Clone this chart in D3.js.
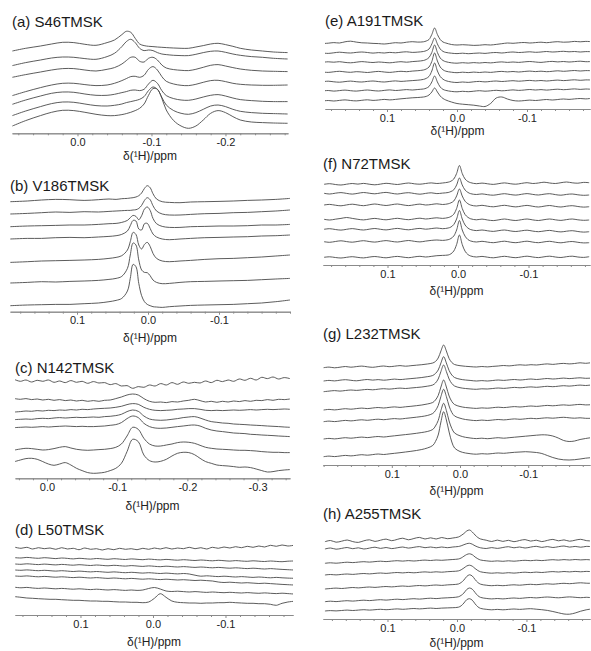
<!DOCTYPE html>
<html><head><meta charset="utf-8">
<script src="https://cdn.jsdelivr.net/npm/d3@7"></script>
<style>body{margin:0;background:#fff}svg{display:block}</style>
</head><body>
<svg id="chart" width="591" height="651"></svg>
<script>
// ---------- DATA (chemical shift grids in ppm, intensities in arbitrary units, 7 stacked spectra per panel) ----------
const ppmA = [0.088,0.07,0.05,0.035,0.02,0.005,-0.01,-0.025,-0.04,-0.05,-0.06,-0.066,-0.072,-0.078,-0.084,-0.09,-0.096,-0.102,-0.108,-0.114,-0.12,-0.13,-0.14,-0.15,-0.16,-0.17,-0.18,-0.19,-0.2,-0.21,-0.22,-0.235,-0.25,-0.265,-0.284];
const intA = [
[82.3,85,87.3,89.3,91,90.7,89,88,90.7,93.3,98.7,102,101,95,89.3,87.7,87,86.7,86.3,86,85.7,85.3,85,85,86.3,87.7,89.3,90,88.7,87,85,83.3,82.3,81.3,80.7],
[67.7,70.7,73.3,75.3,76.3,76,74.7,74,76.7,80,86.7,91.7,94,90.7,85,82.7,83.3,82.7,80.7,79.3,78.7,78,77.7,77.7,79,80.7,82,82.3,81,79.3,78,76.7,76,75,74.3],
[56,58.7,61.3,63.3,64.7,64.7,63.3,62.3,64,65.7,69.3,72.7,76,76,72,71.3,75,76,73.3,68.3,65.3,63.7,63,62.7,64,66,68,68.7,67.3,65.7,64.3,63,62.3,62,61.7],
[37.7,41.7,45.7,48.3,50,50,48.7,47.7,48.3,50,52.7,54.7,56.7,57,56,58,64,66.7,63.3,56.7,52,49.3,48,47.7,49,51,52.7,53,51.7,50,49,48.3,48,48,48.3],
[29,33.3,37.3,40,41.3,41,39.3,38,38,39,40.7,41.7,43,43.3,42.7,44,49.3,53,50,42.7,37.7,34.7,33.3,33,34.3,36.3,38,38.7,37.3,35.3,33.7,32.7,32,31.7,31.7],
[17.7,22.3,26.7,29.7,31.3,31,29.3,27.7,27.3,28,29.3,30.7,31.7,32.7,34,36.7,42.7,46.3,44,36,28.3,22.7,20,19,20.7,24,27.3,28.3,26.7,24,22,20.7,20,19.7,19.3],
[7.3,12.7,17.7,21,23,22.7,21,19,17.7,17.7,18.7,19.7,21,22.7,25,29.3,38,44.7,44,35,23.3,12.7,7.3,5,7.3,13.3,20,22.7,20.7,16.7,13.3,11.3,10.7,10.3,10]
];

const ppmB = [0.194,0.17,0.15,0.13,0.11,0.09,0.07,0.055,0.045,0.037,0.029,0.025,0.021,0.017,0.013,0.009,0.005,0.001,-0.003,-0.007,-0.012,-0.02,-0.03,-0.045,-0.06,-0.08,-0.1,-0.12,-0.14,-0.16,-0.18,-0.2];
const intB = [
[110,110.7,111.7,112.3,112,111.3,112,112.7,112.3,113,113.3,113.7,114,114.7,116,118.7,123.3,126,124,118,112.7,110,109.3,109,109.7,110,110.3,110.7,111.3,111.7,112.3,113.3],
[97.7,98.3,99,99.7,99.3,100,99.7,100.3,100.7,101,101.3,101.3,101.7,102,103.3,106.3,111.3,114,112,106,100.7,97.7,96.7,96.7,97.3,98,98.3,99,99.3,100,100.7,101.7],
[85,85.7,86,86.3,86.7,86.7,87.3,88,88.3,89.3,91.3,94,96.3,95.3,92,96,102.7,104.7,101.3,93.3,88,85.3,84.3,84.3,85,85.3,85.7,85.7,86,86.7,86.7,87.3],
[72.7,73.3,73.3,74,74.3,74,74.7,75.3,76,77.3,80.7,86,91.3,90.7,82.7,81.7,88,88.3,83.3,77.7,74.7,72.7,72,72.7,73.3,74,74.3,74.7,75,75.7,76,76.7],
[49.3,50,50.7,51,51.3,51.7,52.3,53.3,54.3,56,61.7,70,79.3,77.3,66.7,62.7,67.3,69.3,65.3,58.3,53.3,50.7,50,50.7,51.3,52.3,53,53.3,54,54.7,55.7,56.7],
[28.7,29.3,30,29.7,30.3,30.7,31.3,32.3,33.3,35.3,43.3,56.7,68.7,66.7,51.7,41.7,39.3,39,36,31.7,29.3,28,28.3,29.3,30,30.3,30.7,31,31.3,32,32.7,33.3],
[6,6.7,7,7.3,7.3,8,8.7,10,11.3,13.3,20.7,33.3,47.3,45,28.3,16,10,7.3,6,5,4.7,4.3,5,5.7,6.3,6.7,7,7.3,8,8.7,10,11.7]
];

const ppmC = [0.046,0.038,0.03,0.022,0.014,0.006,-0.002,-0.01,-0.018,-0.026,-0.034,-0.042,-0.05,-0.058,-0.066,-0.074,-0.082,-0.09,-0.098,-0.106,-0.114,-0.122,-0.13,-0.138,-0.146,-0.154,-0.162,-0.17,-0.178,-0.186,-0.194,-0.202,-0.21,-0.218,-0.226,-0.234,-0.242,-0.25,-0.258,-0.266,-0.274,-0.282,-0.29,-0.298,-0.306,-0.314,-0.322,-0.33,-0.338,-0.346];
const intC = [
[98.7,97,98.3,96.3,98,97,98.3,96,97.3,95.7,97.7,96,97,95,96.7,95.3,95.7,93.7,94.7,92.3,92.7,90,91.7,91,93.3,92.3,94.7,93.3,95.7,94,96.3,95,96,95.3,97.3,95.7,98,96.7,98.3,97,99.3,98,100,98.3,101,99.7,101.3,99.3,100.7,99.7],
[79.7,79,79.7,78.7,79.3,78.3,79,78,78.7,77.7,78.3,77.3,78,77,77.7,77,78,78.3,79.7,81.3,83.3,84.3,83.3,79.7,77,76,76.3,75.7,76.7,76.3,77.3,78,79,77.7,76.3,77,76,77,76.3,77.3,76.7,77.7,77,78,77.7,78.7,78,79,78.7,79.3],
[66.3,66.7,67.3,67,67.7,67.3,68,67.7,68.3,68,68.7,68.3,69,68.7,69.3,69.7,70,70.3,71,72,73.7,74.7,74,71,69,68,67.7,68,68.3,69,69.3,69.7,69.7,69,68,67.7,68,67.7,68,68.3,68,68.3,68.7,68.3,68.7,69,68.7,69,69.3,69],
[58.7,59,59.3,59,59.7,60,59.7,60.3,60.7,60.3,60.7,61,60.7,61,61.3,61,61.7,62,62.7,64,66.7,68.3,67,62.3,59.3,58.3,58,58.3,59,59.7,60.7,61.3,61.7,60.3,58.3,56.7,56,55.3,55,54.3,54,53.7,53.3,53,52.7,52.3,52,51.7,51.3,51],
[50.7,51,51.3,51,51.3,51.7,51.3,51.7,52,52.3,52,51.7,52,51.7,51.7,52,52.3,53,53.7,55.7,59.7,62.3,60.7,55,51.7,50.3,50,50.3,51,51.7,52.3,53,53.3,52.3,50,48.3,47.3,46.7,46,45.3,45,44.7,44,43.7,43.3,43,42.7,42.3,42,41.7],
[28.3,29.3,30,29.7,29,28.3,28.7,29.7,31,31.7,30.3,29,28.3,28,28.3,28.7,29,29.7,31,34.3,42.3,51,49,40,34.3,32.3,32.3,33.3,34.3,35.7,36.3,36,35,33,31,30,29.3,29,28.7,28.3,28,28,27.7,27.3,26.7,26.3,26,26,25.7,25.7],
[16.7,18.3,19.7,20,19,16.7,14.3,13,14.3,15.7,13.3,10,7.7,5.7,5,5.3,6,7.7,10,15,26.7,39,36.7,23.3,17.7,16.3,17,19,22.3,25,26,25.7,23.7,20,16.7,15,13.3,12.7,12.3,11.7,11,11.3,10.7,9.3,7.7,6.3,6.7,7.7,8.3,8.7]
];

const ppmD = [0.19,0.182,0.174,0.166,0.158,0.15,0.142,0.134,0.126,0.118,0.11,0.102,0.094,0.086,0.078,0.07,0.062,0.054,0.046,0.038,0.03,0.022,0.014,0.006,-0.002,-0.01,-0.018,-0.026,-0.034,-0.042,-0.05,-0.058,-0.066,-0.074,-0.082,-0.09,-0.098,-0.106,-0.114,-0.122,-0.13,-0.138,-0.146,-0.154,-0.162,-0.17,-0.178,-0.186,-0.194];
const intD = [
[67.7,66.7,67.7,66,67.3,66.3,67,65.7,67.3,66,66.7,65.3,67,65.7,66.3,65,66.3,65.3,66.7,65.7,66.3,65.3,66.7,65.7,67,66,67.3,66,67,66.3,67.7,66.3,67.3,66,67.7,66.7,68,67,68.3,67.3,68.7,67.7,69,68,69.7,68.7,70,69,69.7],
[57.3,57,57.6,57.1,56.7,57.3,56.9,56.4,57,56.6,56.1,56.7,56.3,55.9,56.5,56.1,55.7,56.3,55.9,55.5,56.1,55.7,55.3,55.9,55.5,55.1,55.6,55.2,54.8,55.3,54.9,54.5,55,54.6,54.2,54.7,54.3,53.9,54.4,54,53.7,54.2,53.8,53.5,54,53.6,53.3,53.8,54],
[51,50.7,51.2,50.8,50.4,50.9,50.5,50.1,50.6,50.2,49.8,50.3,49.9,49.5,50,49.6,49.2,49.7,49.3,48.9,49.4,49,48.6,49.1,48.7,48.3,48.8,48.4,48,48.4,48,47.6,48,47.6,47.2,47.6,47.2,46.8,47.2,46.8,46.4,46.8,46.4,46,46.4,46,45.6,45.3,45],
[45,44.7,45.1,44.7,44.3,44.7,44.3,43.9,44.3,43.9,43.5,43.9,43.5,43.1,43.5,43.1,42.7,43.1,42.7,42.3,42.7,42.3,41.9,42.3,41.9,41.5,41.9,41.5,41.1,41.5,41,39.8,38.8,39.2,38.8,38.4,38.8,38.4,38,38.4,38,37.6,38,37.6,37.2,37.6,37.2,36.9,36.7],
[39,38.7,39.1,38.6,38.2,38.6,38.2,37.8,38.2,37.8,37.4,37.8,37.4,37,37.4,37,36.6,37,36.6,36.2,36.6,36.2,35.8,36.2,35.8,35.4,35.8,35.4,35,35.3,34.9,34.5,34.8,34.4,34,33,32.5,32.8,32.4,32,32.3,31.9,31.5,31.8,31.4,31,30.6,30.3,30],
[27.7,27.2,27.6,27,26.6,27,26.6,26.2,26.6,26.2,25.8,26.2,25.8,25.4,25.8,25.4,25,25.4,25,24.6,25,24.6,25,26.5,27.5,26,24,23.5,23.8,23.4,23,23.4,23,22.6,23,22.6,22.3,22.7,22.3,22,22.4,22,21.7,22.1,21.7,21.4,21.8,21.4,21],
[18.3,17.7,17,16.7,16.3,16,15.7,15.7,15.3,15,14.7,14.7,14.3,14,14,13.7,13.7,13.3,13,13,12.7,12.7,12.3,13,16.7,21.3,17.7,14,12.7,12.3,12,12,11.7,12,12,12.3,12.3,12.7,12.3,12,11.7,11.7,11.3,11.3,10.7,9.7,11.7,13,13.7]
];

const ppmE = [0.192,0.184,0.176,0.168,0.16,0.152,0.144,0.136,0.128,0.12,0.112,0.104,0.096,0.088,0.08,0.072,0.064,0.056,0.048,0.044,0.04,0.036,0.032,0.028,0.024,0.02,0.016,0.008,0,-0.008,-0.016,-0.024,-0.032,-0.04,-0.048,-0.056,-0.064,-0.072,-0.08,-0.088,-0.096,-0.104,-0.112,-0.12,-0.128,-0.136,-0.144,-0.152,-0.16,-0.168,-0.176,-0.184,-0.192];
const intE = [
[65.5,65.8,66.4,66,67.2,67.8,66.9,66.2,66,65.6,65.4,65,65.6,66.3,66,66.8,67.3,66.9,67.2,68,69.5,74.5,81,74.5,69.5,67,66,64.5,64,64.3,64,63.6,63.8,64.3,64,64.6,65.3,66,65.7,66.2,66.5,66,66.4,66.8,66.3,66.9,67.3,66.8,67,67.6,67.2,67.6,67.3],
[56,55.6,56.2,56.8,56.3,56,56.6,57,56.5,55.9,56.4,56,56.6,56.2,56.8,57.2,56.6,56.9,57.5,58.3,60,65,71,65,60,57.6,56.6,55.8,55.4,55.8,55.3,55.7,56,55.6,56.2,56.5,56,56.6,57,56.5,56.8,57.2,56.7,57,57.5,57,57.3,57.7,57.2,57.5,57,57.4,57.3],
[46.7,47.2,46.8,47.3,46.6,46.2,46.8,47.4,46.9,46.5,47,46.6,46.2,46.8,47.3,46.8,47.4,47.8,48.5,49.5,51.5,56.5,64,56.5,51,48.5,47.3,46.2,45.8,46.3,45.9,46.4,46,46.5,46.1,46.7,47.1,46.6,47,46.6,47.1,47.5,47,46.6,47.2,47.6,47.1,47.5,47,47.4,47.8,47.3,47.5],
[37,36.6,37.2,37.7,37.1,36.7,37.3,37,36.5,37.1,37.6,37,36.6,37.2,37.7,37.3,37.9,38.3,39,40,42,47.5,56,48,42,39.2,37.8,36.8,36.3,36.8,36.4,36.9,36.5,37,36.6,37.2,37.6,37.1,37.5,37,37.5,37.9,37.4,37.8,37.3,37.7,38.2,37.7,38.1,38.5,38,38.4,38.3],
[27.3,27.8,27.2,26.8,27.4,27.9,27.3,27,27.6,28,27.4,27,27.6,28.1,27.6,28,28.4,28.8,29.6,30.6,32.6,38,46,38,32.5,29.8,28.3,27,26.5,27,26.6,27.2,27.6,27.1,27.6,28,27.5,27.9,28.3,27.8,28.2,28.6,28.1,28.5,28,28.5,28.9,28.4,28.8,29.2,28.7,29.1,29],
[18,18.5,17.9,18.4,18.9,18.3,17.9,18.5,19,18.4,18,18.6,19.1,18.5,18.9,19.4,19,19.5,20,20.8,22.5,27,33,27,22,19.6,18.6,17.6,17.2,17.7,17.3,17.8,18.3,17.8,18.2,18.7,18.2,18.6,19.1,18.6,19,19.5,19,19.4,18.9,19.4,19.8,19.3,19.7,20.1,19.6,20,19.7],
[8,8.5,8,8.6,9.1,8.5,8.1,8.7,9.2,8.6,9,9.6,9.1,9.6,10.2,10.7,11.2,11.5,12,12.6,14,17,21,17,13,10.5,9,7,5.5,4.8,4.3,3.8,3,2.5,5.5,11,12,10,8.5,8,8.4,8.9,8.5,9,9.5,9,9.5,10,9.6,10.1,10.5,10.1,10.7]
];

const ppmF = [0.19,0.182,0.174,0.166,0.158,0.15,0.142,0.134,0.126,0.118,0.11,0.102,0.094,0.086,0.078,0.07,0.062,0.054,0.046,0.038,0.03,0.022,0.014,0.01,0.006,0.002,-0.002,-0.006,-0.01,-0.014,-0.018,-0.026,-0.034,-0.042,-0.05,-0.058,-0.066,-0.074,-0.082,-0.09,-0.098,-0.106,-0.114,-0.122,-0.13,-0.138,-0.146,-0.154,-0.162,-0.17,-0.178,-0.186];
const intF = [
[80.7,81.3,80.5,80,80.8,81.5,80.9,81.6,80.8,80.2,80.9,81.7,81.1,80.5,81.3,82,81.2,80.8,81.5,82.1,81.5,82,82.8,83.8,86,91.5,99.5,91.5,86,83.5,82.3,81.3,81.9,81.2,80.6,81.4,82.1,81.3,80.8,81.6,82.3,81.5,82,82.8,82,81.5,82.3,83,82.2,81.8,82.6,82.3],
[71.7,71,71.8,72.4,71.6,70.9,71.7,72.5,71.8,71.2,72,72.6,71.7,71,71.8,72.3,71.5,70.8,71.6,72.2,71.4,71.9,72.5,73.5,75.2,80,87,80,75,72.6,71.3,70.5,71.1,70.3,69.8,70.6,71.3,70.5,69.9,70.7,71.4,70.6,70,70.8,71.3,70.4,69.8,70.6,71,70.2,69.7,70],
[60,60.6,59.8,59.2,60.1,60.8,60,59.3,60.2,61,60.2,59.5,60.3,61,60.1,59.4,60.2,60.9,60,60.5,61.2,60.5,61.2,62.2,64,69,76,69,63.8,61.3,59.9,59,59.7,58.8,58.2,59,59.7,58.8,58.1,58.9,59.6,58.7,58,58.8,59.5,58.6,58,58.8,59.3,58.5,57.9,58.3],
[45.7,45,45.8,46.6,47.5,46.6,45.7,45.1,45.9,46.6,45.8,45.2,46,46.7,45.9,45.3,46.1,46.8,46,46.6,47.2,46.6,47.4,48.5,50.8,56.5,65,56.5,50.5,47.7,46.2,45.2,45.9,45,44.4,45.2,46,45.1,44.5,45.3,46,45.1,44.5,45.3,46,45.2,44.6,45.4,46,45.2,44.7,45],
[35.7,36.3,35.5,34.9,35.7,36.4,35.6,35,35.8,36.5,35.7,35.1,35.9,36.6,35.8,35.2,36,36.6,35.8,36.4,37,36.3,37,38,40.5,46,54.5,46,40,37,35.4,34.4,35,34.2,33.6,34.4,35,34.1,33.5,34.2,34.8,33.9,33.3,34,34.6,33.7,33.1,33.8,34.3,33.5,32.9,33.3],
[23.3,22.7,23.5,24.2,23.4,22.8,23.6,24.3,23.5,22.9,23.7,24.4,23.6,23,23.8,24.5,23.7,23.1,23.9,24.6,25,24.6,25.3,26.5,29,35,44.5,35,28.8,25.5,24,23,23.7,22.9,22.3,23.1,23.8,22.9,22.3,23.1,23.8,22.9,22.3,23.1,23.7,22.8,22.2,23,23.5,22.7,22.1,22.3],
[7.7,8.2,7.5,7,7.7,8.3,7.6,7.1,7.9,8.5,7.8,7.2,8,8.6,7.9,7.3,8.1,8.7,8,8.6,9.3,9.6,10,11.2,14,20.5,30,20.5,13.8,10.5,9,8,8.6,7.8,7.2,8,8.7,7.9,7.3,8.1,8.8,8,7.4,8.2,8.8,8,7.5,8.3,8.8,8,7.6,8.3]
];

const ppmG = [0.2,0.192,0.184,0.176,0.168,0.16,0.152,0.144,0.136,0.128,0.12,0.112,0.104,0.096,0.088,0.08,0.072,0.064,0.056,0.048,0.04,0.036,0.032,0.028,0.024,0.02,0.016,0.012,0.008,0,-0.008,-0.016,-0.024,-0.032,-0.04,-0.048,-0.056,-0.064,-0.072,-0.08,-0.088,-0.096,-0.104,-0.112,-0.12,-0.128,-0.136,-0.144,-0.152,-0.16,-0.168,-0.176,-0.184,-0.192];
const intG = [
[97.3,97.9,97.2,97.8,98.5,97.8,98.4,98.9,98.2,97.7,98.4,99,98.3,98.8,99.4,98.8,99.3,99.8,100.3,101,102,103.5,107,114,120,114,106.5,102.5,100.5,99.3,98.7,98.3,98,98.5,98.1,98.6,99,99.5,99.1,99.7,100.2,99.8,100.3,100,100.6,101.1,100.6,101.2,101.6,101.1,101.5,102.2,101.7,102.3],
[84,84.6,84.1,84.8,85.3,84.7,84.2,84.9,85.5,84.9,85.4,84.8,85.3,85.9,85.4,85.9,86.4,86.9,87.5,88.3,89.5,91.5,95,102,108.3,102,94.5,90,87.5,85.8,85,84.5,84,84.4,84,84.5,85,84.6,85.1,85.5,85,85.5,86,85.5,86,86.5,86,86.4,86.9,86.4,86.8,87.2,86.7,86.9],
[73.3,73.9,74.4,73.9,74.5,75,74.6,75.1,75.6,75.2,75.8,76.3,75.9,76.4,76.9,76.5,77,77.5,78,78.8,80,82,86,93.5,100,93.5,86,81.5,79,77.3,76.5,76,75.7,76.2,76,76.5,77,76.6,77.1,77.6,77.2,77.7,78.1,77.7,78.2,78.7,78.3,78.8,79.3,78.9,79.4,79.9,79.5,80],
[55,55.6,55.1,55.7,56.3,55.8,56.4,56.9,56.4,57,57.5,57,57.6,58.1,57.6,58.2,58.7,59.3,60,61,62.5,65,69.5,78,85,78,69,63.5,60.5,58.5,57.5,57,56.6,57.1,56.8,57.3,57.8,57.4,57.9,58.4,58,58.5,59,58.6,59.1,59.6,59.2,59.7,60.1,59.7,60.2,60.6,60.1,60.3],
[43.3,43.9,43.4,44,44.6,44.1,44.7,45.2,44.7,45.3,45.8,45.3,45.9,46.4,46,46.6,47.2,47.8,48.5,49.5,51.5,54.5,59.5,68.5,75.7,68.5,59,52.5,49,46.8,45.5,44.8,44.4,44.9,44.5,45,45.5,45.1,45.6,46.1,45.7,46.2,46.7,46.3,46.8,47.2,46.8,47.3,47.7,47.2,46.8,47.2,46.7,46.7],
[26,26.6,26.1,26.7,27.3,26.8,27.4,27.9,27.4,28,28.5,28,28.6,29.2,29.8,30.4,31,31.7,32.5,33.5,35.5,39,44.5,54.5,61.7,54.5,44,36.5,32,29.2,27.7,26.9,26.4,26.8,26.3,26.8,27.3,26.8,27.3,27.8,28.3,28.8,29.3,29.8,30.2,30,29,27,24.5,23.5,24,25.5,26.5,27.3],
[8.3,8.9,8.4,9,9.6,9.1,9.7,10.3,9.8,10.4,11,10.5,11.1,11.7,12.3,13,13.7,14.5,15.5,17,19.5,23.5,30,43,53.3,45,33,23,17,13.5,12,11.2,10.8,11.3,11,11.5,12,11.7,12.2,12.7,13,13.3,13,12.5,11.5,9.5,7.5,6,5.2,5,5.3,6,6.8,7.3]
];

const ppmH = [0.19,0.182,0.174,0.166,0.158,0.15,0.142,0.134,0.126,0.118,0.11,0.102,0.094,0.086,0.078,0.07,0.062,0.054,0.046,0.038,0.03,0.022,0.014,0.006,-0.002,-0.006,-0.01,-0.014,-0.018,-0.022,-0.026,-0.03,-0.034,-0.042,-0.05,-0.058,-0.066,-0.074,-0.082,-0.09,-0.098,-0.106,-0.114,-0.122,-0.13,-0.138,-0.146,-0.154,-0.162,-0.17,-0.178,-0.186,-0.194];
const intH = [
[77.3,78.5,76.8,77.8,79,77.4,76.6,78.2,79.2,77.6,78.8,79.9,78.3,79.6,80.8,79.2,80.5,81.6,80,81.2,80,81.5,80.3,81,82,83.5,85.5,88,89,87,84,81.5,80,78.8,77.5,78.9,77.6,78.7,77.3,78.5,79.4,77.9,78.8,77.4,78.6,79.6,78.2,79.1,77.8,78.8,79.7,78.4,78],
[70,71,69.8,70.6,71.5,70.3,71.2,70,70.9,71.8,70.6,71.5,70.4,71.2,72,70.9,71.7,72.4,71.3,72,71.2,72,71.3,72,72.5,73.2,74.3,75.3,75.7,74.8,73.2,72,71.2,70.5,71.4,70.6,71.5,72.3,71.2,72,71,71.9,72.7,71.6,72.4,71.5,72.3,73,71.9,72.6,71.8,72.6,72.3],
[55.7,56.2,55.8,56.3,56.8,56.4,56.9,57.3,56.9,57.4,57.8,57.4,57.9,58.3,57.9,58.4,58,58.5,58.9,58.5,59,58.7,59.1,59.5,60,61,62.8,64.5,65.2,64.3,62,60.2,59,58.2,57.7,58.1,57.7,58.2,57.8,58.3,58.7,58.3,58.8,58.4,58.9,59.3,58.9,59.4,59,59.5,59.1,59.4,59],
[44,44.5,44.1,44.6,45,44.6,45.1,45.5,45.1,45.6,46,45.6,46.1,46.5,46.1,46.6,46.2,46.7,47.1,46.7,47.2,46.8,47.3,47.6,48.1,49.2,51,53,53.8,52.8,50.5,48.5,47.2,46.3,45.8,46.2,45.8,46.3,45.9,46.4,46.8,46.4,46.9,46.5,47,47.4,47,47.5,47.1,47.6,47.2,47.6,47.3],
[30,30.5,30.9,30.5,31,31.5,31.1,31.6,32,31.6,32.1,32.5,32.1,32.6,33,32.6,33.1,33.5,33.1,33.6,34,33.6,34.1,34.4,35,36.5,39,42.5,44.2,43,39.5,36.5,34.8,33.8,33.3,33.7,33.3,33.8,34.2,33.8,34.3,34.7,34.3,34.8,35.2,34.8,35.3,35.7,35.3,35.8,36.2,35.8,35.7],
[17.3,17.8,17.4,17.9,18.3,17.9,18.4,18.8,18.4,18.9,19.3,18.9,19.4,19.8,19.4,19.9,20.3,19.9,20.4,20.8,20.4,20.9,21.2,21.5,22.2,23.6,26,29.5,31,29.8,26.5,23.3,21.6,20.6,20.1,20.5,20.1,20.6,21,20.6,21.1,21.5,21.1,21.6,22,21.6,21.2,21.7,22.1,21.7,21.3,21.7,21.3],
[8,8.4,8.1,8.5,8.9,8.5,8.9,9.3,8.9,9.3,9.7,9.3,9.7,10.1,9.7,10.1,10.5,10.1,10.5,10.9,10.5,10.9,11.1,11.3,11.8,13.2,16,19.3,20.3,18.8,15.2,12.2,10.6,9.7,9.2,9.6,9.2,9.6,10,9.6,10,10.3,9.8,9.3,8.6,7.5,6.2,5,4.8,6,7.8,9.2,10]
];

const titles = ["(a) S46TMSK","(b) V186TMSK","(c) N142TMSK","(d) L50TMSK","(e) A191TMSK","(f) N72TMSK","(g) L232TMSK","(h) A255TMSK"];
const majorTicks = [[0,-0.1,-0.2],[0.1,0,-0.1],[0,-0.1,-0.2,-0.3],[0.1,0,-0.1],[0.1,0,-0.1],[0.1,0,-0.1],[0.1,0,-0.1],[0.1,0,-0.1]];
const axisTitle = "δ(¹H)/ppm";

// ---------- LAYOUT ----------
const layout = [
  {ppm:ppmA, data:intA, x0:12,  x1:288, dom:[0.0885,-0.2845], axisY:133.3, titleY:27,  labelY:159.6},
  {ppm:ppmB, data:intB, x0:10,  x1:290, dom:[0.1944,-0.2],    axisY:311.7, titleY:191, labelY:341.5},
  {ppm:ppmC, data:intC, x0:15,  x1:290, dom:[0.0456,-0.3462], axisY:478.3, titleY:373, labelY:509.5},
  {ppm:ppmD, data:intD, x0:15,  x1:293, dom:[0.1903,-0.1931], axisY:615,   titleY:535, labelY:646},
  {ppm:ppmE, data:intE, x0:325, x1:590, dom:[0.1886,-0.19],   axisY:109,   titleY:26,  labelY:135.4},
  {ppm:ppmF, data:intF, x0:323, x1:590, dom:[0.1915,-0.1872], axisY:265,   titleY:169, labelY:295},
  {ppm:ppmG, data:intG, x0:323, x1:590, dom:[0.2009,-0.1906], axisY:465,   titleY:339, labelY:495},
  {ppm:ppmH, data:intH, x0:323, x1:590, dom:[0.1928,-0.1914], axisY:619,   titleY:519, labelY:647}
];

const svg = d3.select("#chart");
const FONT = "Arial, 'Liberation Sans', Helvetica, sans-serif";
const fmt = d => Math.abs(d) < 1e-9 ? "0.0" : d3.format(".1f")(d).replace("\u2212", "-");

layout.forEach((p, k) => {
  const x = d3.scaleLinear().domain(p.dom).range([p.x0, p.x1]);
  const y = d3.scaleLinear().domain([0, 130]).range([p.axisY, p.axisY - 130]);
  const g = svg.append("g");

  const clipId = "clip" + k;
  svg.append("clipPath").attr("id", clipId).append("rect")
    .attr("x", p.x0).attr("y", p.axisY - 135).attr("width", p.x1 - p.x0).attr("height", 135);

  const line = d3.line()
    .x((d, i) => x(p.ppm[i]))
    .y(d => y(d))
    .curve(d3.curveCatmullRom.alpha(0.5));

  g.append("g").attr("clip-path", `url(#${clipId})`)
    .selectAll("path").data(p.data).join("path")
    .attr("d", line)
    .attr("fill", "none")
    .attr("stroke", "#4a4a4a")
    .attr("stroke-width", 0.9)
    .attr("stroke-linejoin", "round");

  // minor ticks every 0.02 ppm
  const lo = Math.min(...p.dom), hi = Math.max(...p.dom);
  const minors = d3.range(Math.ceil(lo / 0.02 - 1e-9), Math.floor(hi / 0.02 + 1e-9) + 1)
    .map(v => +(v * 0.02).toFixed(3))
    .filter(v => !majorTicks[k].some(m => Math.abs(m - v) < 1e-6));

  const minorAxis = g.append("g").attr("transform", `translate(0,${p.axisY})`)
    .call(d3.axisBottom(x).tickValues(minors).tickSize(2).tickSizeOuter(0).tickFormat(""));
  const majorAxis = g.append("g").attr("transform", `translate(0,${p.axisY})`)
    .call(d3.axisBottom(x).tickValues(majorTicks[k]).tickSize(3).tickSizeOuter(0).tickPadding(2).tickFormat(fmt));

  [minorAxis, majorAxis].forEach(a => {
    a.select(".domain").attr("stroke", "#8a8a8a").attr("stroke-width", 1);
    a.selectAll(".tick line").attr("stroke", "#8a8a8a");
  });
  majorAxis.selectAll(".tick text")
    .attr("font-family", FONT).attr("font-size", 11).attr("fill", "#222");

  g.append("text")
    .attr("x", p.x0).attr("y", p.titleY)
    .attr("font-family", FONT).attr("font-size", 15).attr("fill", "#1a1a1a")
    .text(titles[k]);

  g.append("text")
    .attr("x", (p.x0 + p.x1) / 2).attr("y", p.labelY)
    .attr("text-anchor", "middle")
    .attr("font-family", FONT).attr("font-size", 12).attr("fill", "#222")
    .text(axisTitle);
});
</script>
</body></html>
